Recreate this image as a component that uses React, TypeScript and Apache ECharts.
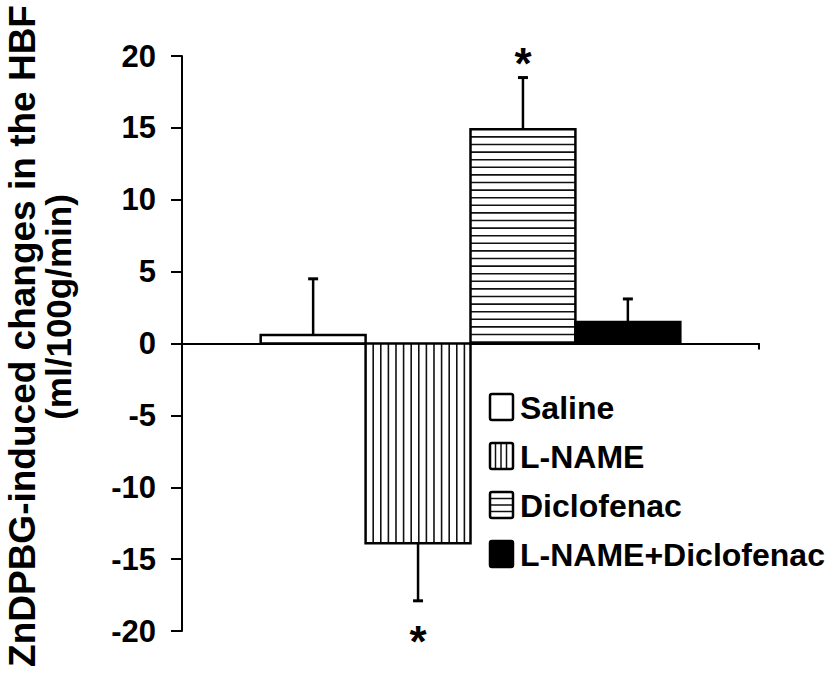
import React, { useEffect, useRef } from "react";
import * as echarts from "echarts";

const categories = ["Saline", "L-NAME", "Diclofenac", "L-NAME+Diclofenac"];
const positions = [1.25, 2.25, 3.25, 4.25];
const means = [0.6, -13.9, 14.9, 1.5];
const sems = [3.9, 4.0, 3.6, 1.6];
const significant = [false, true, true, false];
const patterns = ["empty", "vertical", "horizontal", "solid"];
const yTicks = { min: -20, max: 20, interval: 5 };
const yTitle1 = "ZnDPBG-induced changes in the HBF";
const yTitle2 = "(ml/100g/min)";

const FONT = "'Liberation Sans', Arial, sans-serif";

function patternLines(kind: string, x0: number, y0: number, w: number, h: number, spacing: number, lw: number) {
  const out: any[] = [];
  if (kind === "vertical") {
    for (let x = x0 + spacing; x < x0 + w - 1; x += spacing) {
      out.push({ type: "line", shape: { x1: x, y1: y0, x2: x, y2: y0 + h }, style: { stroke: "#111", lineWidth: lw } });
    }
  } else if (kind === "horizontal") {
    for (let y = y0 + spacing; y < y0 + h - 1; y += spacing) {
      out.push({ type: "line", shape: { x1: x0, y1: y, x2: x0 + w, y2: y }, style: { stroke: "#111", lineWidth: lw } });
    }
  }
  return out;
}

export default function App() {
  const ref = useRef<HTMLDivElement>(null);
  useEffect(() => {
    document.body.style.margin = "0";
    const chart = echarts.init(ref.current!, null, { renderer: "svg" });
    const data = categories.map((c, i) => ({ name: c, value: [positions[i], means[i], sems[i], i] }));

    const legendItems: any[] = [];
    const legendTop = 407;
    const legendStep = 49;
    categories.forEach((c, i) => {
      const cy = legendTop + i * legendStep;
      const x0 = 490, w = 23, h = 26, y0 = cy - h / 2;
      legendItems.push({
        type: "rect",
        shape: { x: x0, y: y0, width: w, height: h },
        style: { fill: patterns[i] === "solid" ? "#000" : "#fff", stroke: "none" },
      });
      patternLines(patterns[i], x0, y0, w, h, patterns[i] === "vertical" ? 5.5 : 6.5, 1.5).forEach((l) => legendItems.push(l));
      legendItems.push({
        type: "rect",
        shape: { x: x0, y: y0, width: w, height: h, r: 2 },
        style: { fill: "none", stroke: "#000", lineWidth: 2.5 },
      });
      legendItems.push({
        type: "text",
        x: 520,
        y: cy + 1,
        style: { text: c, font: `bold 32px ${FONT}`, fill: "#000", textAlign: "left", textVerticalAlign: "middle" },
      });
    });

    chart.setOption({
      animation: false,
      backgroundColor: "#fff",
      grid: { left: 182, right: 76, top: 56, bottom: 42, containLabel: false },
      xAxis: {
        type: "value",
        min: 0,
        max: 5.5,
        interval: 5.5,
        axisLine: { show: true, onZero: true, lineStyle: { color: "#000", width: 2 } },
        axisTick: { show: true, inside: false, length: 6, lineStyle: { color: "#000", width: 2 } },
        axisLabel: { show: false },
        splitLine: { show: false },
      },
      yAxis: {
        type: "value",
        min: yTicks.min,
        max: yTicks.max,
        interval: yTicks.interval,
        axisLine: { show: true, lineStyle: { color: "#000", width: 2 } },
        axisTick: { show: true, inside: false, length: 11, lineStyle: { color: "#000", width: 2 } },
        axisLabel: { fontSize: 31, fontWeight: "bold", color: "#000", fontFamily: FONT, margin: 26 },
        splitLine: { show: false },
      },
      series: [
        {
          type: "custom",
          data,
          z: 3,
          renderItem: (params: any, api: any) => {
            const x = api.value(0);
            const v = api.value(1);
            const e = api.value(2);
            const idx = api.value(3);
            const kind = patterns[idx];
            const top = api.coord([x, v]);
            const base = api.coord([x, 0]);
            const w = api.size([1, 0])[0];
            const left = top[0] - w / 2;
            const y0 = Math.min(top[1], base[1]);
            const h = Math.abs(top[1] - base[1]);
            const sign = v >= 0 ? 1 : -1;
            const end = api.coord([x, v + sign * e]);
            const children: any[] = [];
            children.push({
              type: "rect",
              shape: { x: left, y: y0, width: w, height: h },
              style: { fill: kind === "solid" ? "#000" : "#fff", stroke: "none" },
            });
            patternLines(kind, left, y0, w, h, 7.6, 1.6).forEach((l) => children.push(l));
            children.push({
              type: "rect",
              shape: { x: left, y: y0, width: w, height: h },
              style: { fill: "none", stroke: "#000", lineWidth: 2.5 },
            });
            children.push({
              type: "line",
              shape: { x1: top[0], y1: top[1], x2: end[0], y2: end[1] },
              style: { stroke: "#000", lineWidth: 2.5 },
            });
            children.push({
              type: "line",
              shape: { x1: end[0] - 5, y1: end[1], x2: end[0] + 5, y2: end[1] },
              style: { stroke: "#000", lineWidth: 3 },
            });
            if (significant[idx]) {
              const sy = sign > 0 ? end[1] - 14 : end[1] + 41;
              children.push({
                type: "text",
                x: end[0],
                y: sy,
                style: { text: "*", font: `bold 44px ${FONT}`, fill: "#000", textAlign: "center", textVerticalAlign: "middle" },
              });
            }
            return { type: "group", children };
          },
        },
      ],
      graphic: [
        {
          type: "text",
          x: 22,
          y: 336,
          rotation: Math.PI / 2,
          style: { text: yTitle1, font: `bold 37px ${FONT}`, fill: "#000", textAlign: "center", textVerticalAlign: "middle" },
        },
        {
          type: "text",
          x: 58,
          y: 307,
          rotation: Math.PI / 2,
          style: { text: yTitle2, font: `bold 35px ${FONT}`, fill: "#000", textAlign: "center", textVerticalAlign: "middle" },
        },
        ...legendItems,
      ],
    });
    return () => chart.dispose();
  }, []);
  return <div ref={ref} style={{ width: 835, height: 673 }} />;
}
